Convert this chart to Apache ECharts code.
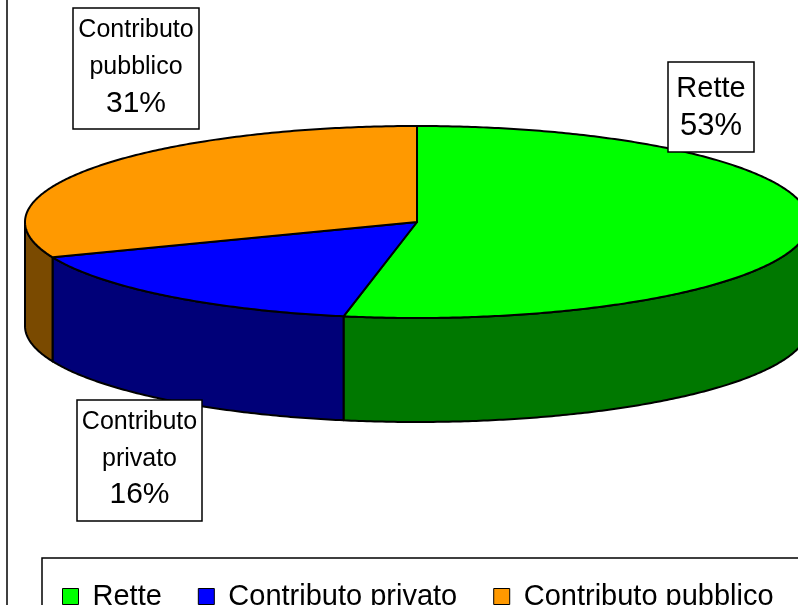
<!DOCTYPE html>
<html>
<head>
<meta charset="utf-8">
<style>
html, body { margin: 0; padding: 0; background: #fff; }
#main { width: 798px; height: 605px; }
</style>
<script src="https://cdn.jsdelivr.net/npm/echarts@6/dist/echarts.min.js"></script>
</head>
<body>
<div id="main"></div>
<script>
var categories = ['Rette', 'Contributo privato', 'Contributo pubblico'];
var values = [53, 16, 31];

var topColors = ['#00ff00', '#0000ff', '#ff9900'];
var sideColors = ['#007800', '#000078', '#7a4a00'];
var font = '"Liberation Sans", Arial, Helvetica, sans-serif';

// ellipse of the 3d pie
var cx = 417, cy = 222, rx = 392, ry = 96, depth = 104;

// label boxes: box rect, font sizes, text middle line positions
var labelBoxes = [
    {x: 668, y: 62, w: 86, h: 90, nameSize: 29, pctSize: 31, lines: [89, 126]},
    {x: 77, y: 400, w: 125, h: 121, nameSize: 25, pctSize: 30, lines: [422, 459, 495]},
    {x: 73, y: 8, w: 126, h: 121, nameSize: 25, pctSize: 30, lines: [30, 67, 104]}
];

var total = values.reduce(function (a, b) { return a + b; }, 0);

function pt(a, dy) {
    return [cx + rx * Math.sin(a), cy - ry * Math.cos(a) + dy];
}

function arc(a0, a1, dy) {
    var pts = [];
    var n = Math.max(2, Math.ceil((a1 - a0) / 0.01));
    for (var k = 0; k <= n; k++) {
        pts.push(pt(a0 + (a1 - a0) * k / n, dy));
    }
    return pts;
}

function makeRender(i) {
    return function (params, api) {
        var before = 0;
        for (var j = 0; j < i; j++) before += values[j];
        var start = before / total * Math.PI * 2;
        var end = start + api.value(0) / total * Math.PI * 2;
        var children = [];
        // front side of the cylinder
        var s0 = Math.max(start, Math.PI / 2), s1 = Math.min(end, Math.PI * 3 / 2);
        if (s0 < s1) {
            var side = arc(s0, s1, 0).concat(arc(s0, s1, depth).reverse());
            children.push({
                type: 'polygon',
                z2: 1,
                shape: {points: side},
                style: {fill: sideColors[i], stroke: '#000', lineWidth: 2, lineJoin: 'round'}
            });
        }
        // top face
        children.push({
            type: 'polygon',
            z2: 10,
            shape: {points: [[cx, cy]].concat(arc(start, end, 0))},
            style: {fill: topColors[i], stroke: '#000', lineWidth: 2, lineJoin: 'round'}
        });
        return {type: 'group', children: children};
    };
}

var series = categories.map(function (name, i) {
    return {
        type: 'custom',
        name: name,
        coordinateSystem: 'none',
        silent: true,
        itemStyle: {color: topColors[i]},
        renderItem: makeRender(i),
        data: [values[i]]
    };
});

var graphic = [{
    type: 'line',
    z: 100,
    shape: {x1: 7, y1: 0, x2: 7, y2: 605},
    style: {stroke: '#000', lineWidth: 1.5}
}];

labelBoxes.forEach(function (b, i) {
    var pct = Math.round(values[i] / total * 100) + '%';
    var texts = categories[i].split(' ');
    graphic.push({
        type: 'rect',
        z: 100,
        shape: {x: b.x, y: b.y, width: b.w, height: b.h},
        style: {fill: '#fff', stroke: '#000', lineWidth: 1.5}
    });
    texts.concat([pct]).forEach(function (t, k) {
        graphic.push({
            type: 'text',
            z: 101,
            x: b.x + b.w / 2,
            y: b.lines[k],
            style: {
                text: t,
                fill: '#000',
                font: (k === texts.length ? b.pctSize : b.nameSize) + 'px ' + font,
                align: 'center',
                verticalAlign: 'middle'
            }
        });
    });
});

var chart = echarts.init(document.getElementById('main'));
chart.setOption({
    animation: false,
    legend: {
        data: categories,
        left: 42,
        top: 558,
        width: 1000,
        padding: [24, 40, 30, 20],
        borderColor: '#000',
        borderWidth: 1.5,
        icon: 'rect',
        itemWidth: 16,
        itemHeight: 16,
        itemGap: 36,
        selectedMode: false,
        itemStyle: {borderColor: '#000', borderWidth: 1},
        textStyle: {fontSize: 29, fontFamily: font, color: '#000', padding: [0, 0, 0, 9]}
    },
    graphic: graphic,
    series: series
});
</script>
</body>
</html>
